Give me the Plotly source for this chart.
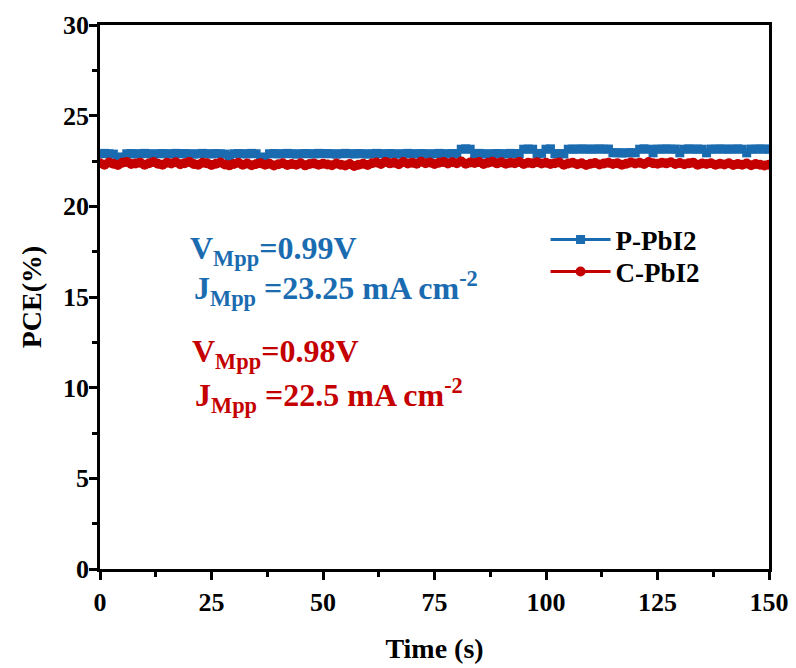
import plotly.graph_objects as go

time_s = list(range(0, 151))

pce_p = [
    22.90, 22.92, 22.90, 22.88, 22.70, 22.72, 22.90, 22.91, 22.89, 22.90,
    22.92, 22.90, 22.88, 22.90, 22.91, 22.90, 22.89, 22.92, 22.90, 22.91,
    22.90, 22.88, 22.90, 22.92, 22.90, 22.89, 22.91, 22.90, 22.88, 22.75,
    22.90, 22.91, 22.90, 22.89, 22.92, 22.90, 22.70, 22.72, 22.90, 22.91,
    22.89, 22.90, 22.92, 22.90, 22.88, 22.90, 22.91, 22.90, 22.89, 22.92,
    22.90, 22.91, 22.90, 22.88, 22.90, 22.92, 22.90, 22.89, 22.91, 22.90,
    22.88, 22.90, 22.92, 22.90, 22.89, 22.91, 22.90, 22.88, 22.90, 22.92,
    22.90, 22.89, 22.91, 22.90, 22.88, 22.90, 22.92, 22.90, 22.89, 22.91,
    22.90, 23.15, 23.17, 23.15, 22.90, 22.92, 22.90, 22.88, 22.90, 22.91,
    22.90, 22.89, 22.92, 22.90, 22.91, 23.15, 23.16, 23.15, 22.90, 22.92,
    23.15, 23.17, 22.90, 22.91, 22.89, 23.15, 23.16, 23.15, 23.17, 23.15,
    23.16, 23.15, 23.17, 23.15, 23.16, 22.95, 22.96, 22.94, 22.95, 22.96,
    22.95, 23.15, 23.17, 23.15, 22.95, 23.16, 23.15, 23.17, 23.15, 23.16,
    22.95, 23.15, 23.17, 23.15, 23.16, 23.15, 22.95, 23.16, 23.15, 23.17,
    23.15, 23.16, 23.15, 23.17, 23.15, 22.95, 23.16, 23.15, 23.17, 23.15,
    23.16,
]

pce_c = [
    22.38, 22.30, 22.42, 22.35, 22.28, 22.40, 22.45, 22.33, 22.36, 22.41,
    22.30, 22.38, 22.44, 22.35, 22.29, 22.40, 22.36, 22.43, 22.32, 22.38,
    22.45, 22.34, 22.30, 22.40, 22.37, 22.28, 22.35, 22.42, 22.31, 22.26,
    22.34, 22.40, 22.30, 22.36, 22.27, 22.33, 22.38, 22.29, 22.35, 22.25,
    22.32, 22.37, 22.28, 22.34, 22.30, 22.38, 22.26, 22.33, 22.36, 22.29,
    22.35, 22.31, 22.27, 22.36, 22.30, 22.25, 22.33, 22.22, 22.30, 22.35,
    22.28, 22.38, 22.42, 22.33, 22.45, 22.37, 22.40, 22.32, 22.44, 22.36,
    22.41, 22.35, 22.46, 22.38, 22.42, 22.34, 22.40, 22.45, 22.36, 22.43,
    22.38, 22.47, 22.35, 22.42, 22.39, 22.44, 22.33, 22.40, 22.46, 22.37,
    22.43, 22.35, 22.41, 22.38, 22.45, 22.34, 22.40, 22.37, 22.43, 22.36,
    22.40, 22.33, 22.38, 22.42, 22.30, 22.36, 22.40, 22.32, 22.37, 22.28,
    22.35, 22.39, 22.31, 22.36, 22.40, 22.33, 22.38, 22.30, 22.35, 22.42,
    22.36, 22.40, 22.33, 22.44, 22.38, 22.35, 22.41, 22.37, 22.43, 22.34,
    22.39, 22.32, 22.37, 22.41, 22.30, 22.36, 22.33, 22.38, 22.29, 22.35,
    22.31, 22.37, 22.28, 22.34, 22.30, 22.36, 22.27, 22.33, 22.29, 22.25,
    22.30,
]

series_names = ["P-PbI2", "C-PbI2"]
x_ticks = [0, 25, 50, 75, 100, 125, 150]
y_ticks = [0, 5, 10, 15, 20, 25, 30]

BLUE = "#1a6bb0"
RED = "#c40000"
FONT = "Liberation Serif"

fig = go.Figure()
fig.add_trace(go.Scatter(
    x=time_s, y=pce_p, name=series_names[0], mode="lines+markers",
    line=dict(color=BLUE, width=3),
    marker=dict(symbol="square", size=9, color=BLUE),
    legend="legend",
))
fig.add_trace(go.Scatter(
    x=time_s, y=pce_c, name=series_names[1], mode="lines+markers",
    line=dict(color=RED, width=3),
    marker=dict(symbol="circle", size=10, color=RED),
    legend="legend2",
))

ann_font = dict(family=FONT, size=32, weight="bold")
annots = [
    ("V<sub>Mpp</sub>=0.99V", 0.131, 0.585, BLUE),
    ("J<sub>Mpp</sub> =23.25 mA cm<sup>-2</sup>", 0.137, 0.515, BLUE),
    ("V<sub>Mpp</sub>=0.98V", 0.134, 0.396, RED),
    ("J<sub>Mpp</sub> =22.5 mA cm<sup>-2</sup>", 0.139, 0.319, RED),
]
for text, ax, ay, col in annots:
    fig.add_annotation(
        text=text, x=ax, y=ay, xref="paper", yref="paper",
        xanchor="left", yanchor="middle", showarrow=False,
        font=dict(color=col, **ann_font),
    )

axis_common = dict(
    showline=True, linecolor="black", linewidth=2.5, mirror=True,
    ticks="outside", ticklen=8, tickwidth=2.5, tickcolor="black",
    showgrid=False, zeroline=False, automargin=False,
    tickfont=dict(family=FONT, size=26, color="black", weight="bold"),
    minor=dict(ticks="outside", ticklen=5, tickwidth=2.5, tickcolor="black", showgrid=False),
)

fig.update_xaxes(
    range=[0, 150], tickvals=x_ticks, ticktext=[str(v) for v in x_ticks],
    title=dict(text="Time (s)", font=dict(family=FONT, size=28, color="black", weight="bold"), standoff=23),
    minor_dtick=12.5, minor_tick0=0,
    **axis_common,
)
fig.update_yaxes(
    range=[0, 30], tickvals=y_ticks, ticktext=[str(v) for v in y_ticks],
    title=dict(text="PCE(%)", font=dict(family=FONT, size=28, color="black", weight="bold"), standoff=14),
    minor_dtick=2.5, minor_tick0=0,
    ticklabelstandoff=-5,
    **axis_common,
)

legend_common = dict(
    xanchor="left", yanchor="middle",
    bgcolor="rgba(0,0,0,0)", borderwidth=0,
    font=dict(family=FONT, size=27, color="black", weight="bold"),
    itemwidth=60, tracegroupgap=0,
)

fig.update_layout(
    width=796, height=668,
    margin=dict(l=100, r=27, t=25, b=99),
    plot_bgcolor="white", paper_bgcolor="white",
    showlegend=True,
    legend=dict(x=0.666, y=0.605, **legend_common),
    legend2=dict(x=0.666, y=0.546, **legend_common),
)

fig.write_html("out.html")
